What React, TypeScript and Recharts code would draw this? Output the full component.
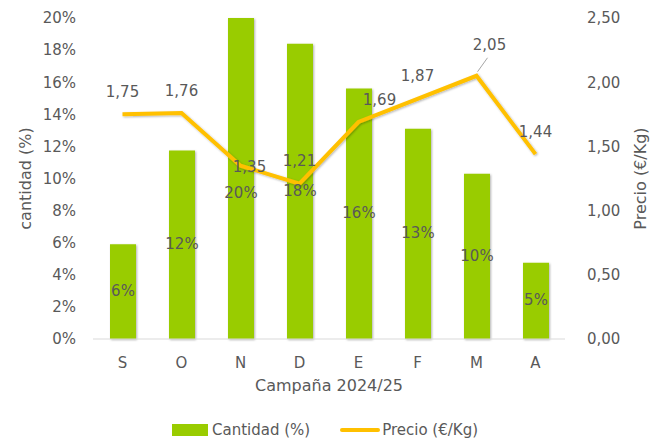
import { ComposedChart, Bar, Line, XAxis, YAxis, Legend, LabelList } from 'recharts';

const months = ['S', 'O', 'N', 'D', 'E', 'F', 'M', 'A'];
const cantidad = [5.9, 11.75, 20, 18.4, 15.6, 13.1, 10.3, 4.75];
const precio = [1.75, 1.76, 1.35, 1.21, 1.69, 1.87, 2.05, 1.44];
const leftTicks = [0, 2, 4, 6, 8, 10, 12, 14, 16, 18, 20];
const rightTicks = [0, 0.5, 1, 1.5, 2, 2.5];

const data = months.map((m, i) => ({ name: m, cantidad: cantidad[i], precio: precio[i] }));

const FONT = '"DejaVu Sans", sans-serif';
const GREY = '#595959';
const GREEN = '#99CC00';
const YELLOW = '#FFC000';

const comma = (v: number) => v.toFixed(2).replace('.', ',');

// label nudges for the price line (Excel moved a few of them)
const priceNudge: Record<number, [number, number]> = {
  2: [9, 24],
  4: [21, 0],
  6: [13, -8],
};

const PriceLabel = (props: any) => {
  const { x, y, index, value } = props;
  const [dx, dy] = priceNudge[index] || [0, 0];
  const lx = x + dx;
  const ly = y - 22 + dy;
  return (
    <g>
      {index === 6 && <line x1={x + 1} y1={y - 4} x2={x + 11} y2={y - 18} stroke="#A6A6A6" strokeWidth={1} />}
      <text x={lx} y={ly} textAnchor="middle" dominantBaseline="middle" fill={GREY} fontSize={15} fontFamily={FONT}>
        {comma(value)}
      </text>
    </g>
  );
};

const BarValue = (props: any) => {
  const { x, y, width, height, index, value } = props;
  const dy = index === 2 ? 15 : 0;
  return (
    <text x={x + width / 2} y={y + height / 2 + dy} textAnchor="middle" dominantBaseline="middle" fill={GREY} fontSize={15} fontFamily={FONT}>
      {Math.round(value)}%
    </text>
  );
};

const LegendBox = () => (
  <div style={{ display: 'flex', justifyContent: 'center', gap: 30, fontFamily: FONT, fontSize: 15, color: GREY }}>
    <span style={{ display: 'flex', alignItems: 'center' }}>
      <span style={{ display: 'inline-block', width: 36, height: 12, background: GREEN, marginRight: 4 }} />
      Cantidad (%)
    </span>
    <span style={{ display: 'flex', alignItems: 'center' }}>
      <span style={{ display: 'inline-block', width: 40, height: 4, background: YELLOW, borderRadius: 2, marginRight: 2 }} />
      Precio (€/Kg)
    </span>
  </div>
);

export default function App() {
  return (
    <div style={{ position: 'absolute', left: 0, top: 0, width: 650, height: 439, background: '#fff' }}>
      <ComposedChart width={650} height={439} data={data} margin={{ top: 18, right: 0, left: 0, bottom: 0 }}>
        <defs>
          <filter id="shadow" x="-20%" y="-5%" width="140%" height="110%">
            <feDropShadow dx="1" dy="1" stdDeviation="1" floodColor="#000" floodOpacity="0.3" />
          </filter>
        </defs>
        <XAxis
          dataKey="name"
          stroke="#D9D9D9"
          tickLine={false}
          tick={{ fill: GREY, fontSize: 15, fontFamily: FONT }}
          tickMargin={12}
          height={82}
          label={{ value: 'Campaña 2024/25', position: 'insideBottom', offset: 30, fill: GREY, fontSize: 16, fontFamily: FONT }}
        />
        <YAxis
          yAxisId="left"
          width={93}
          domain={[0, 20]}
          ticks={leftTicks}
          axisLine={false}
          tickLine={false}
          tickFormatter={(v: number) => `${v}%`}
          tick={{ fill: GREY, fontSize: 15, fontFamily: FONT }}
          tickMargin={11}
          label={{ value: 'cantidad (%)', angle: -90, position: 'insideLeft', offset: 25, fill: GREY, fontSize: 16, fontFamily: FONT, style: { textAnchor: 'middle' } }}
        />
        <YAxis
          yAxisId="right"
          orientation="right"
          width={85}
          domain={[0, 2.5]}
          ticks={rightTicks}
          axisLine={false}
          tickLine={false}
          tickFormatter={comma}
          tick={{ fill: GREY, fontSize: 15, fontFamily: FONT }}
          tickMargin={16}
          label={{ value: 'Precio (€/Kg)', angle: -90, position: 'insideRight', offset: 10, fill: GREY, fontSize: 16, fontFamily: FONT, style: { textAnchor: 'middle' } }}
        />
        <Legend verticalAlign="bottom" content={<LegendBox />} />
        <Bar yAxisId="left" dataKey="cantidad" name="Cantidad (%)" fill={GREEN} barSize={26} filter="url(#shadow)" isAnimationActive={false}>
          <LabelList dataKey="cantidad" content={<BarValue />} />
        </Bar>
        <Line
          yAxisId="right"
          dataKey="precio"
          name="Precio (€/Kg)"
          stroke={YELLOW}
          strokeWidth={4}
          dot={false}
          type="linear"
          filter="url(#shadow)"
          isAnimationActive={false}
        >
          <LabelList dataKey="precio" content={<PriceLabel />} />
        </Line>
      </ComposedChart>
    </div>
  );
}
